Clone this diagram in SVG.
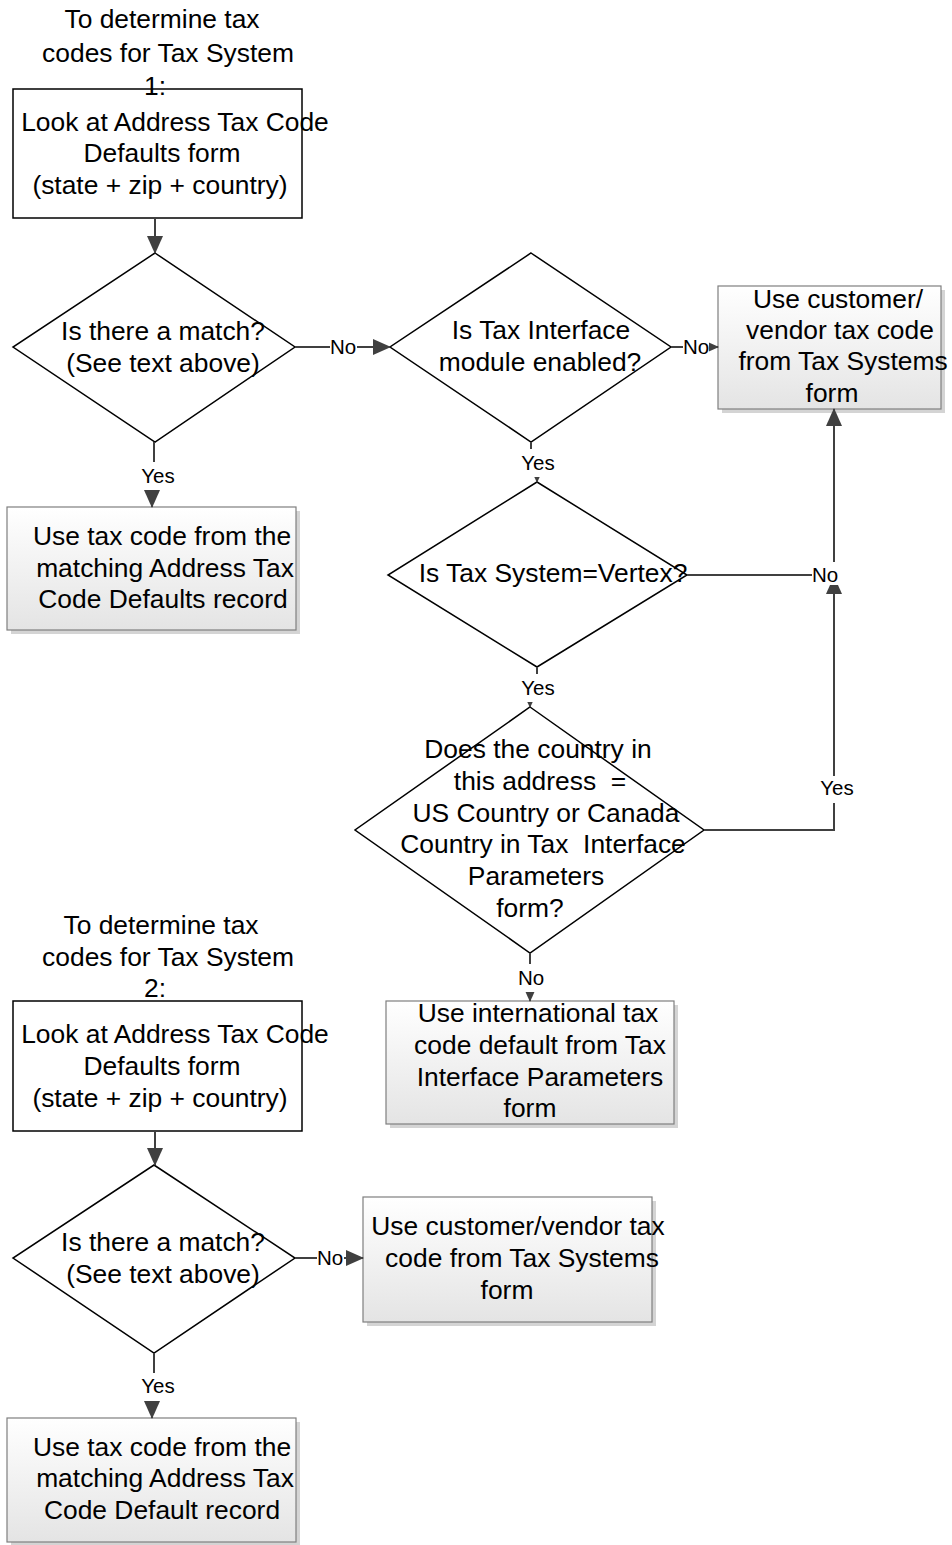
<svg xmlns="http://www.w3.org/2000/svg" width="952" height="1545" viewBox="0 0 952 1545">
<style>
.t{font-family:"Liberation Sans",Arial,sans-serif;font-size:26.4px;fill:#000;text-anchor:middle}
.l{font-family:"Liberation Sans",Arial,sans-serif;font-size:20.5px;fill:#000;text-anchor:middle}
.plain{fill:#fff;stroke:#000;stroke-width:1.5}
.dia{fill:#fff;stroke:#000;stroke-width:1.5}
.gbox{fill:url(#g);stroke:#7f7f7f;stroke-width:1.2}
.sh{fill:#d4d4d4}
.c{fill:none;stroke:#404040;stroke-width:2;marker-end:url(#ah)}
.bg{fill:#fff}
</style>
<defs>
<linearGradient id="g" x1="0" y1="0" x2="0" y2="1">
<stop offset="0" stop-color="#ffffff"/>
<stop offset="1" stop-color="#e4e4e4"/>
</linearGradient>
<marker id="ah" markerUnits="userSpaceOnUse" markerWidth="18" markerHeight="16" viewBox="0 0 18 16" refX="17" refY="8" orient="auto">
<path d="M0,0 L18,8 L0,16 z" fill="#404040"/>
</marker>
</defs>
<rect width="952" height="1545" fill="#fff"/>

<g id="box1">
<rect class="plain" x="13" y="89" width="289" height="129"/>
<text class="t" x="175" y="131">Look at Address Tax Code</text>
<text class="t" x="162" y="162">Defaults form</text>
<text class="t" x="160" y="194">(state + zip + country)</text>
</g>
<g id="title1">
<text class="t" x="162" y="28">To determine tax</text>
<text class="t" x="168" y="62">codes for Tax System</text>
<text class="t" x="155" y="95">1:</text>
</g>
<g id="dec1">
<polygon class="dia" points="155,253 295,347 155,442 13,347"/>
<text class="t" x="163" y="340">Is there a match?</text>
<text class="t" x="163" y="372">(See text above)</text>
</g>
<g id="box2">
<rect class="sh" x="11" y="511" width="289" height="123"/>
<rect class="gbox" x="7" y="507" width="289" height="123"/>
<text class="t" x="162" y="545">Use tax code from the</text>
<text class="t" x="165" y="577">matching Address Tax</text>
<text class="t" x="163" y="608">Code Defaults record</text>
</g>
<g id="dec2">
<polygon class="dia" points="531,253 671,347 531,442 390,347"/>
<text class="t" x="541" y="339">Is Tax Interface</text>
<text class="t" x="540" y="371">module enabled?</text>
</g>
<g id="box3">
<rect class="sh" x="722" y="290" width="223" height="123"/>
<rect class="gbox" x="718" y="286" width="223" height="123"/>
<text class="t" x="838" y="308">Use customer/</text>
<text class="t" x="840" y="339">vendor tax code</text>
<text class="t" x="843" y="370">from Tax Systems</text>
<text class="t" x="832" y="402">form</text>
</g>
<g id="dec3">
<polygon class="dia" points="537,482 687,575 537,667 388,575"/>
<text class="t" x="553" y="582">Is Tax System=Vertex?</text>
</g>
<g id="dec4">
<polygon class="dia" points="530,707 704,830 530,953 355,830"/>
<text class="t" x="538" y="758">Does the country in</text>
<text class="t" x="540" y="790" xml:space="preserve">this address  =</text>
<text class="t" x="546" y="822">US Country or Canada</text>
<text class="t" x="543" y="853" xml:space="preserve">Country in Tax  Interface</text>
<text class="t" x="536" y="885">Parameters</text>
<text class="t" x="530" y="917">form?</text>
</g>
<g id="box5">
<rect class="sh" x="390" y="1005" width="288" height="123"/>
<rect class="gbox" x="386" y="1001" width="288" height="123"/>
<text class="t" x="538" y="1022">Use international tax</text>
<text class="t" x="540" y="1054">code default from Tax</text>
<text class="t" x="540" y="1086">Interface Parameters</text>
<text class="t" x="530" y="1117">form</text>
</g>

<g id="box1b">
<rect class="plain" x="13" y="1001" width="289" height="130"/>
<text class="t" x="175" y="1043">Look at Address Tax Code</text>
<text class="t" x="162" y="1075">Defaults form</text>
<text class="t" x="160" y="1107">(state + zip + country)</text>
</g>
<g id="title2">
<text class="t" x="161" y="934">To determine tax</text>
<text class="t" x="168" y="966">codes for Tax System</text>
<text class="t" x="155" y="997">2:</text>
</g>
<g id="dec1b">
<polygon class="dia" points="154,1165 295,1258 154,1353 13,1258"/>
<text class="t" x="163" y="1251">Is there a match?</text>
<text class="t" x="163" y="1283">(See text above)</text>
</g>
<g id="box6">
<rect class="sh" x="367" y="1201" width="289" height="125"/>
<rect class="gbox" x="363" y="1197" width="289" height="125"/>
<text class="t" x="518" y="1235">Use customer/vendor tax</text>
<text class="t" x="522" y="1267">code from Tax Systems</text>
<text class="t" x="507" y="1299">form</text>
</g>
<g id="box7">
<rect class="sh" x="11" y="1422" width="289" height="124"/>
<rect class="gbox" x="7" y="1418" width="289" height="124"/>
<text class="t" x="162" y="1456">Use tax code from the</text>
<text class="t" x="165" y="1487">matching Address Tax</text>
<text class="t" x="162" y="1519">Code Default record</text>
</g>

<g id="connectors">
<path class="c" d="M155,218 V253"/>
<path class="c" d="M295,347 H390"/>
<path class="c" d="M154,442 V476 H152 V507"/>
<path class="c" d="M671,347 H718"/>
<path class="c" d="M531,442 V465 H537 V482"/>
<path class="c" d="M687,575 H834 V409"/>
<path class="c" d="M704,830 H834 V577"/>
<path class="c" d="M537,667 V690 H530 V707"/>
<path class="c" d="M530,953 V1001"/>
<path class="c" d="M155,1131 V1165"/>
<path class="c" d="M295,1258 H363"/>
<path class="c" d="M154,1353 V1387 H152 V1418"/>

<rect class="bg" x="330" y="336" width="27" height="22"/>
<text class="l" x="343" y="354">No</text>
<rect class="bg" x="141" y="462" width="35" height="28"/>
<text class="l" x="158" y="483">Yes</text>
<rect class="bg" x="683" y="336" width="26" height="22"/>
<text class="l" x="696" y="354">No</text>
<rect class="bg" x="520" y="449" width="36" height="28"/>
<text class="l" x="538" y="470">Yes</text>
<rect class="bg" x="812" y="562" width="27" height="23"/>
<text class="l" x="825" y="582">No</text>
<rect class="bg" x="820" y="776" width="35" height="27"/>
<text class="l" x="837" y="795">Yes</text>
<rect class="bg" x="520" y="674" width="36" height="28"/>
<text class="l" x="538" y="695">Yes</text>
<rect class="bg" x="517" y="964" width="28" height="28"/>
<text class="l" x="531" y="985">No</text>
<rect class="bg" x="317" y="1247" width="27" height="22"/>
<text class="l" x="330" y="1265">No</text>
<rect class="bg" x="141" y="1373" width="35" height="28"/>
<text class="l" x="158" y="1393">Yes</text>
</g>
</svg>
